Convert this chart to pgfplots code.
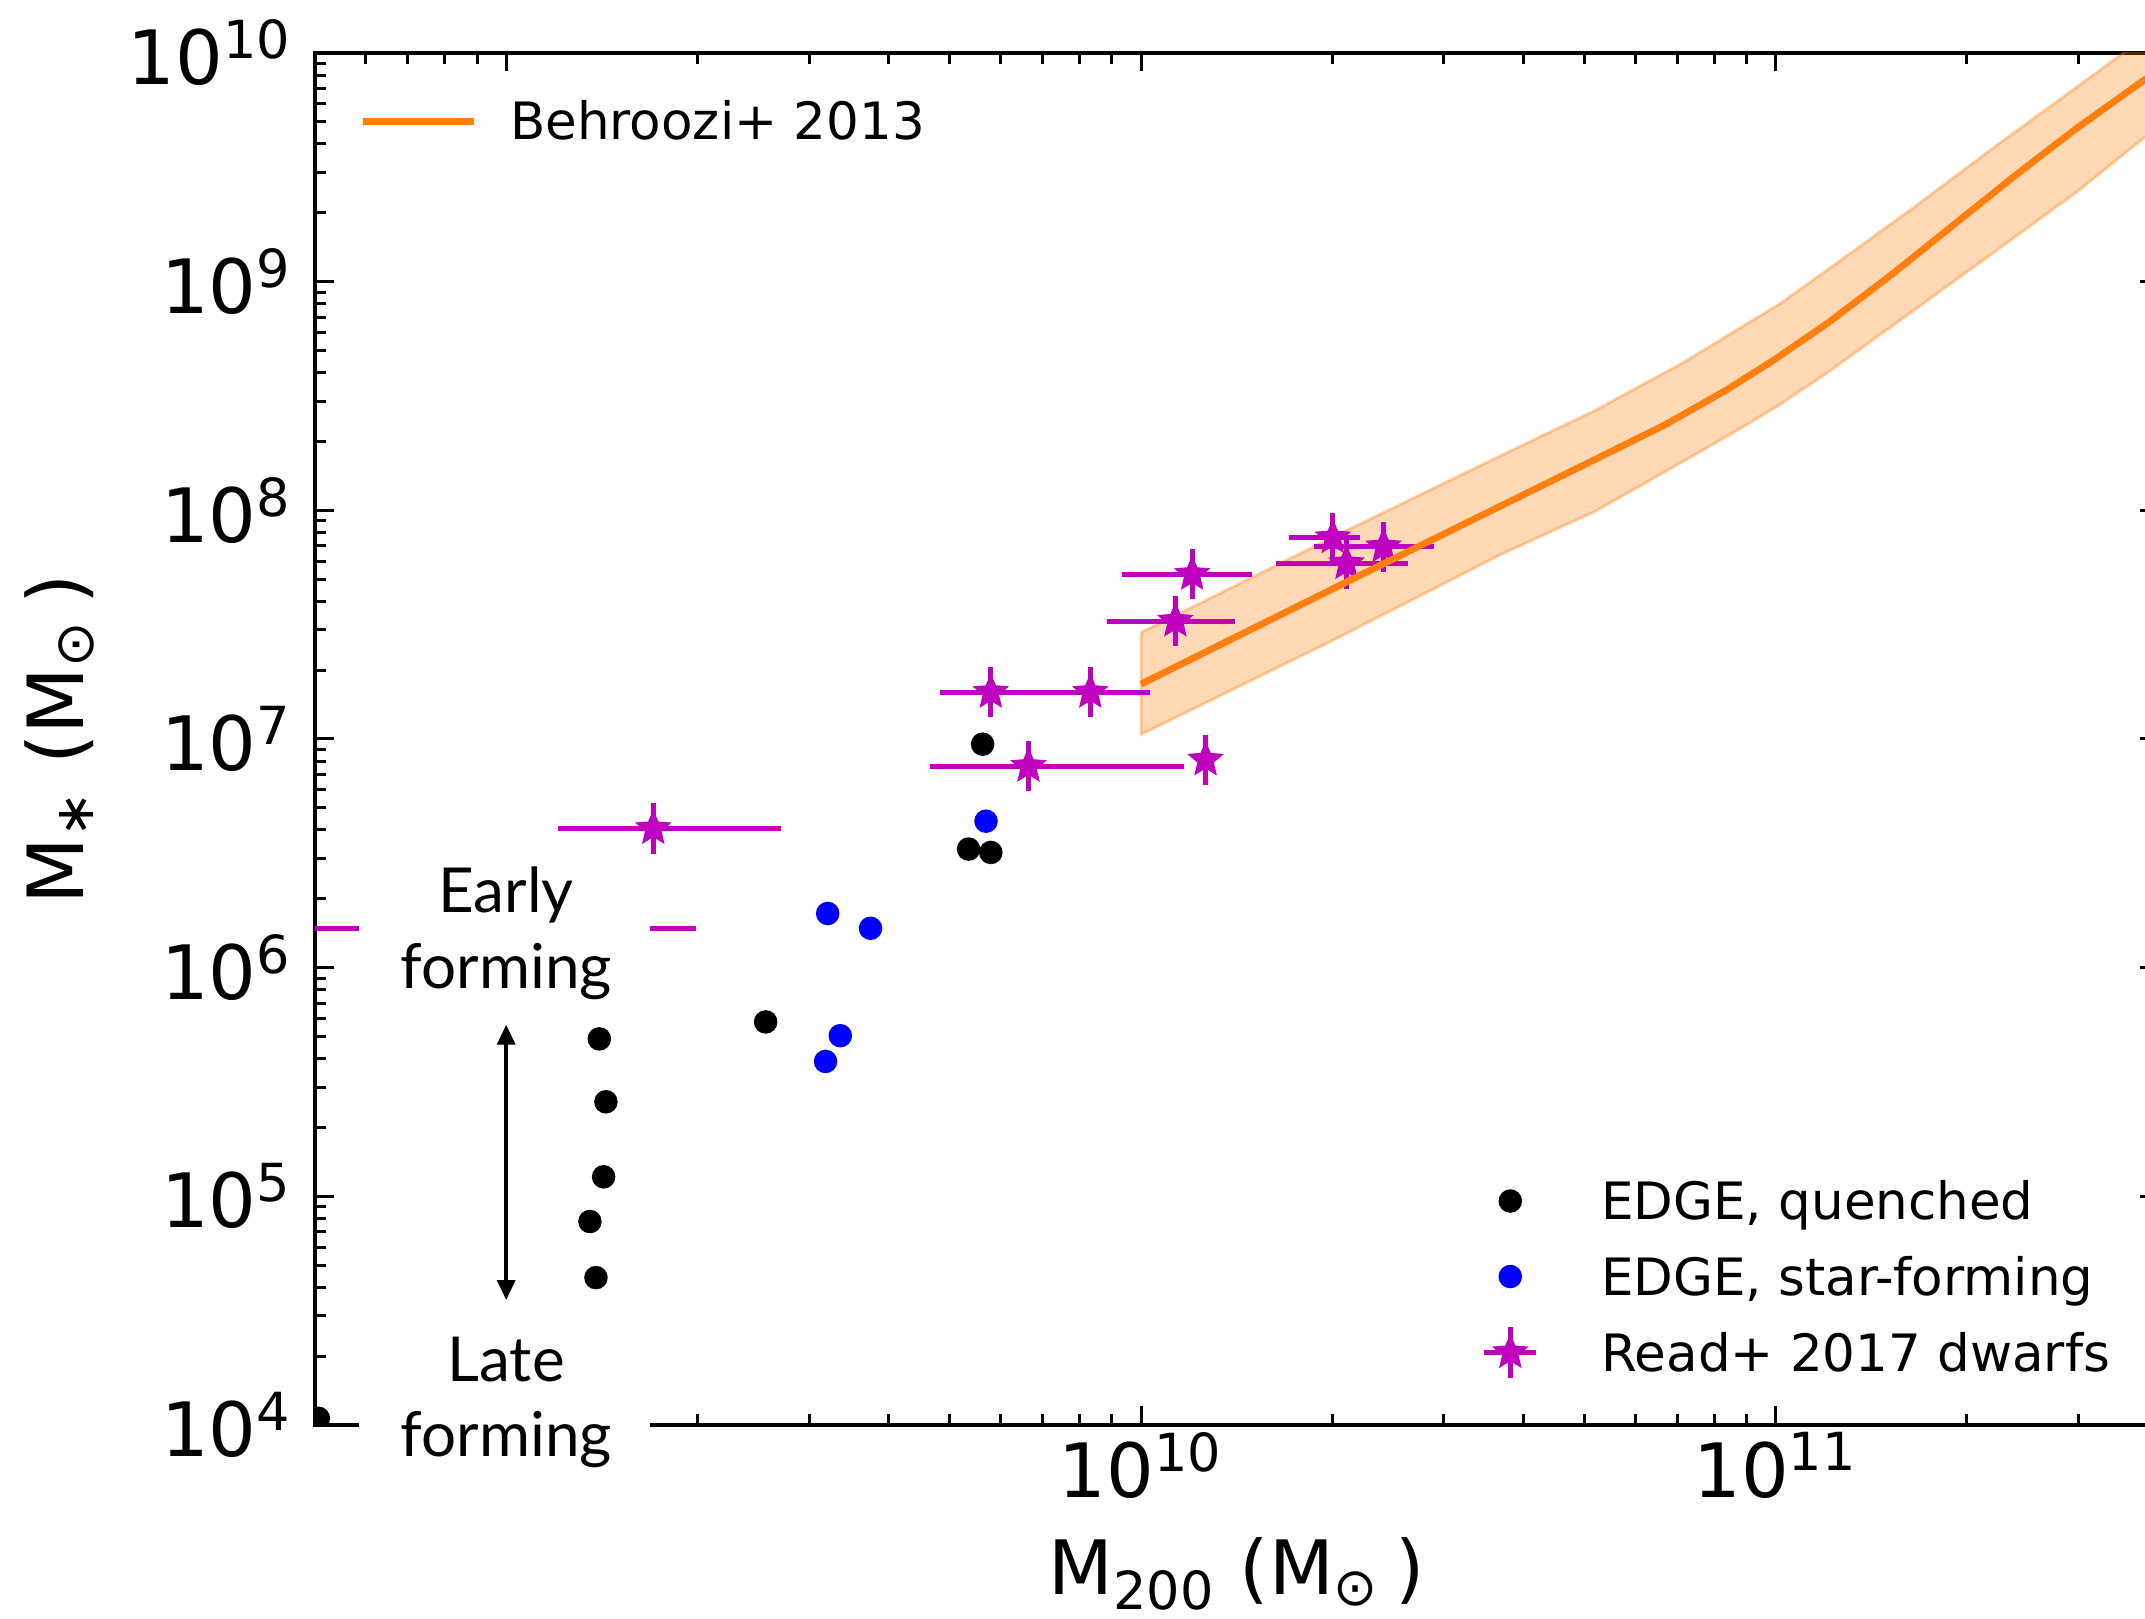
\documentclass[border=0pt]{standalone}
\usepackage{fontspec}
\setmainfont{DejaVu Sans}
\newfontfamily\annfont{Lato}
\usepackage{pgfplots}
\pgfplotsset{compat=1.18}
\usetikzlibrary{arrows.meta}

\definecolor{mplorange}{RGB}{255,127,14}
\definecolor{mplmag}{RGB}{191,0,191}
\definecolor{mplblue}{RGB}{0,0,255}

\pgfdeclareplotmark{fstar}{%
  \pgfpathmoveto{\pgfpointpolar{90}{\pgfplotmarksize}}%
  \pgfpathlineto{\pgfpointpolar{126}{0.45\pgfplotmarksize}}%
  \pgfpathlineto{\pgfpointpolar{162}{\pgfplotmarksize}}%
  \pgfpathlineto{\pgfpointpolar{198}{0.45\pgfplotmarksize}}%
  \pgfpathlineto{\pgfpointpolar{234}{\pgfplotmarksize}}%
  \pgfpathlineto{\pgfpointpolar{270}{0.45\pgfplotmarksize}}%
  \pgfpathlineto{\pgfpointpolar{306}{\pgfplotmarksize}}%
  \pgfpathlineto{\pgfpointpolar{342}{0.45\pgfplotmarksize}}%
  \pgfpathlineto{\pgfpointpolar{18}{\pgfplotmarksize}}%
  \pgfpathlineto{\pgfpointpolar{54}{0.45\pgfplotmarksize}}%
  \pgfpathclose
  \pgfusepathqfillstroke
}

\begin{document}
\begin{tikzpicture}
\begin{axis}[
  name=M,
  scale only axis, width=368.6pt, height=274.4pt,
  xmode=log, ymode=log,
  xmin=5e8, xmax=4e11, ymin=1e4, ymax=1e10,
  xtick={1e9,1e10,1e11},
  xticklabels={{},10\textsuperscript{10},10\textsuperscript{11}},
  minor xtick={6e8,7e8,8e8,9e8,2e9,3e9,4e9,5e9,6e9,7e9,8e9,9e9,2e10,3e10,4e10,5e10,6e10,7e10,8e10,9e10,2e11,3e11},
  ytick={1e4,1e5,1e6,1e7,1e8,1e9,1e10},
  yticklabels={10\textsuperscript{4},10\textsuperscript{5},10\textsuperscript{6},10\textsuperscript{7},10\textsuperscript{8},10\textsuperscript{9},10\textsuperscript{10}},
  minor ytick={2e4,3e4,4e4,5e4,6e4,7e4,8e4,9e4,2e5,3e5,4e5,5e5,6e5,7e5,8e5,9e5,2e6,3e6,4e6,5e6,6e6,7e6,8e6,9e6,2e7,3e7,4e7,5e7,6e7,7e7,8e7,9e7,2e8,3e8,4e8,5e8,6e8,7e8,8e8,9e8,2e9,3e9,4e9,5e9,6e9,7e9,8e9,9e9},
  tick align=inside,
  major tick length=3.7pt, minor tick length=2.2pt,
  tick style={black, line width=0.6pt},
  axis line style={line width=0.7pt},
  tick label style={font=\fontsize{15}{18}\selectfont},
  xticklabel style={yshift=2pt},
  yticklabel style={xshift=-1pt},
  xlabel={M\textsubscript{200} (M\textsubscript{⊙}\hspace{0.2em})},
  ylabel={M\textsubscript{∗} (M\textsubscript{⊙}\hspace{0.2em})},
  xlabel style={font=\fontsize{15}{18}\selectfont, at={(axis description cs:0.5,-0.1239)}, anchor=base},
  ylabel style={font=\fontsize{15.5}{18}\selectfont, at={(axis description cs:-0.1259,0.5)}, anchor=base},
  clip marker paths=true,
  legend cell align=left,
  legend style={at={(0.6317,0.184)}, anchor=north west, draw=none, fill=none,
    inner sep=0pt, column sep=12.2pt, row sep=4.1pt,
    font=\fontsize{10.3}{12}\selectfont,
    nodes={inner sep=0pt, text height=7.5pt, text depth=0pt}},
]
% Behroozi+ 2013 scatter band
\addplot[forget plot, draw=mplorange, draw opacity=0.35, line width=0.6pt,
  fill=mplorange, fill opacity=0.3] coordinates {
 (1e10,2.917e7) (1.995e10,7.568e7) (3.681e10,1.730e8) (5.188e10,2.729e8)
 (7.211e10,4.487e8) (8.6e10,6.05e8) (1.016e11,8.017e8) (1.213e11,1.140e9) (1.637e11,2.080e9)
 (2.208e11,3.873e9) (2.972e11,7.063e9) (3.499e11,9.840e9) (4.169e11,1.413e10)
 (4.169e11,5.129e9) (3.819e11,4.295e9) (2.972e11,2.455e9) (2.208e11,1.346e9)
 (1.637e11,7.379e8) (1.213e11,4.046e8) (1.016e11,2.904e8) (8.6e10,2.20e8) (7.211e10,1.660e8)
 (5.188e10,9.886e7) (3.681e10,6.397e7) (1.995e10,2.679e7) (1e10,1.047e7)
 (1e10,2.917e7)
};
% EDGE quenched
\addplot[only marks, mark=*, mark size=2.15pt, black,
  legend image code/.code={\path[draw=none,fill=none] (-6pt,-5.5pt) rectangle (6pt,5.5pt);
    \fill[black] (0pt,0pt) circle (2.15pt);}] coordinates {
 (1.402e9,4.88e5) (1.436e9,2.59e5) (1.424e9,1.217e5) (1.355e9,7.76e4)
 (1.385e9,4.41e4) (2.563e9,5.79e5) (5.63e9,9.49e6) (5.35e9,3.30e6)
 (5.80e9,3.19e6) (5.06e8,1.07e4)
};
\addlegendentry{EDGE, quenched}
% EDGE star-forming
\addplot[only marks, mark=*, mark size=2.15pt, mplblue,
  legend image code/.code={\path[draw=none,fill=none] (-6pt,-5.5pt) rectangle (6pt,5.5pt);
    \fill[mplblue] (0pt,0pt) circle (2.15pt);}] coordinates {
 (3.36e9,5.04e5) (3.185e9,3.89e5) (3.21e9,1.725e6) (3.75e9,1.486e6) (5.70e9,4.37e6)
};
\addlegendentry{EDGE, star-forming}
% Read+ 2017 dwarfs
\addplot[only marks, mark=fstar, mark size=3.2pt, mplmag,
  mark options={fill=mplmag, draw=mplmag, line width=0.5pt},
  legend image code/.code={\path[draw=none,fill=none] (-6pt,-5.5pt) rectangle (6pt,5.5pt);
    \draw[mplmag, line width=1pt] (-5.2pt,0pt) -- (5.2pt,0pt) (0pt,-5.1pt) -- (0pt,5.1pt);
    \draw[mplmag, fill=mplmag, line width=0.5pt, mark=fstar, mark size=3.2pt] plot coordinates {(0pt,0pt)};},
  error bars/.cd, x dir=both, x explicit, y dir=both, y explicit,
  error mark=none, error bar style={mplmag, line width=1pt}]
coordinates {
 (5.80e9,1.60e7)   += (1.17e9,4.61e6)  -= (9.8e8,3.58e6)
 (8.32e9,1.60e7)   += (2.01e9,4.61e6)  -= (1.62e9,3.58e6)
 (6.65e9,7.60e6)   += (5.03e9,2.19e6)  -= (2.00e9,1.70e6)
 (1.264e10,8.1e6)  += (0,2.33e6)       -= (0,1.81e6)
 (1.204e10,5.25e7) += (2.89e9,1.512e7) -= (2.70e9,1.174e7)
 (1.133e10,3.28e7) += (2.72e9,9.45e6)  -= (2.48e9,7.33e6)
 (2.005e10,7.59e7) += (2.05e9,2.186e7) -= (2.95e9,1.697e7)
 (2.41e10,6.93e7)  += (4.8e9,1.996e7)  -= (5.4e9,1.550e7)
 (2.107e10,5.85e7) += (5.23e9,1.685e7) -= (4.77e9,1.308e7)
 (1.705e9,4.06e6)  += (1.001e9,1.169e6) -= (4.98e8,9.08e5)
 (8.9e8,1.48e6)    += (1.098e9,4.26e5) -= (6.9e8,3.31e5)
};
\addlegendentry{Read+ 2017 dwarfs}
% Behroozi+ 2013 median relation
\addplot[forget plot, mplorange, line width=1.35pt, no markers] coordinates {
 (1e10,1.738e7) (2.138e10,4.955e7) (3.681e10,1.042e8) (5.248e10,1.694e8)
 (6.683e10,2.360e8) (8.356e10,3.357e8) (9.863e10,4.487e8) (1.213e11,6.653e8)
 (1.521e11,1.072e9) (1.901e11,1.762e9) (2.377e11,2.897e9) (2.972e11,4.667e9)
 (3.819e11,7.674e9) (4.169e11,9.12e9)
};
\end{axis}

\begin{axis}[
  scale only axis, width=368.6pt, height=274.4pt,
  xmode=log, ymode=log,
  xmin=5e8, xmax=4e11, ymin=1e4, ymax=1e10,
  hide axis, clip=false,
  legend cell align=left,
  legend image code/.code={\path[draw=none,fill=none] (0pt,-4pt) rectangle (22.2pt,4pt);
    \draw[mplorange, line width=1.45pt] (0pt,0pt) -- (22.2pt,0pt);},
  legend style={at={(0.0233,0.9656)}, anchor=north west, draw=none, fill=none,
    inner sep=0pt, column sep=6.6pt,
    font=\fontsize{10.3}{12}\selectfont,
    nodes={inner sep=0pt, text height=7.5pt, text depth=0pt}},
]
\addlegendimage{mplorange}
\addlegendentry{Behroozi+ 2013}
\fill[white] (axis cs:5.86e8,3.45e6) rectangle (axis cs:1.683e9,6.41e5);
\fill[white] (axis cs:5.86e8,3.18e4) rectangle (axis cs:1.683e9,3.84e3);
\node[anchor=base, font=\annfont\fontsize{12.4}{15}\selectfont] at (axis cs:1e9,1.741e6) {Early};
\node[anchor=base, font=\annfont\fontsize{12.4}{15}\selectfont] at (axis cs:1e9,8.09e5) {forming};
\node[anchor=base, font=\annfont\fontsize{12.4}{15}\selectfont] at (axis cs:1e9,1.542e4) {Late};
\node[anchor=base, font=\annfont\fontsize{12.4}{15}\selectfont] at (axis cs:1e9,7.28e3) {forming};
\draw[{Triangle[length=4pt,width=3.6pt]}-{Triangle[length=4pt,width=3.6pt]}, line width=0.7pt]
  (axis cs:1e9,5.63e5) -- (axis cs:1e9,3.52e4);
\end{axis}

\pgfresetboundingbox
\path[use as bounding box] ([xshift=-63pt,yshift=-38.8pt]M.south west) rectangle ([xshift=-2.6pt,yshift=10.6pt]M.north east);
\end{tikzpicture}
\end{document}
